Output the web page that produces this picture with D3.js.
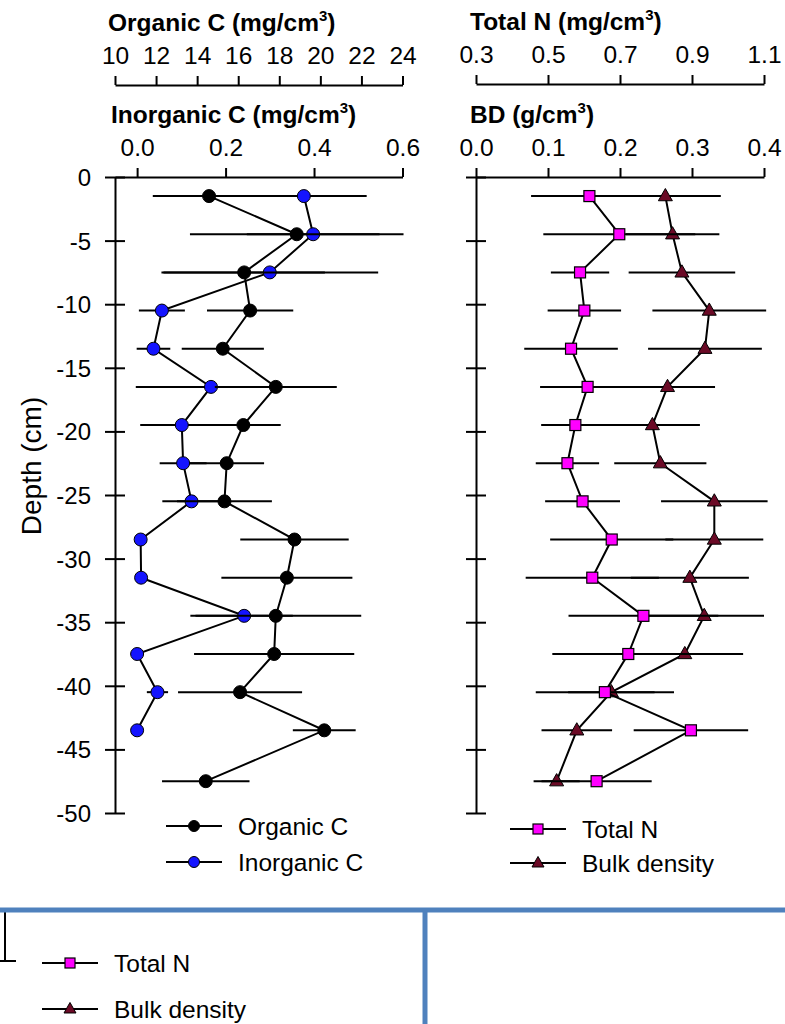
<!DOCTYPE html>
<html>
<head>
<meta charset="utf-8">
<script src="https://cdn.jsdelivr.net/npm/d3@7"></script>
<style>
  html, body { margin: 0; padding: 0; background: #ffffff; }
  svg { display: block; }
  text { font-family: "Liberation Sans", Arial, sans-serif; fill: #000; }
</style>
</head>
<body>
<svg id="chart" width="785" height="1024"></svg>
<script>
// Soil profile: depth of each sampled layer (cm, negative downward)
const depth = [-1.5, -4.5, -7.5, -10.5, -13.5, -16.5, -19.5, -22.5, -25.5, -28.5, -31.5, -34.5, -37.5, -40.5, -43.5, -47.5];

// Organic C (mg/cm3), mean and error
const organicC   = [14.58, 18.85, 16.29, 16.58, 15.25, 17.83, 16.25, 15.44, 15.33, 18.74, 18.37, 17.83, 17.75, 16.09, 20.19, 14.42];
const organicErr = [2.74, 5.2, 3.93, 2.1, 2.0, 2.97, 1.82, 1.82, 2.31, 2.64, 3.19, 4.16, 3.9, 3.02, 1.53, 2.13];

// Inorganic C (mg/cm3), measured down to -43.5 cm
const inorganicC   = [0.377, 0.398, 0.30, 0.056, 0.037, 0.167, 0.101, 0.104, 0.123, 0.008, 0.009, 0.242, 0.0, 0.046, 0.0];
const inorganicErr = [0.142, 0.15, 0.245, 0.052, 0.038, 0.17, 0.094, 0.053, 0.066, 0.005, 0.005, 0.11, 0.01, 0.024, 0.005];

// Total N (mg/cm3)
const totalN    = [0.615, 0.698, 0.589, 0.601, 0.564, 0.610, 0.576, 0.554, 0.596, 0.677, 0.623, 0.765, 0.723, 0.658, 0.897, 0.635];
const totalNErr = [0.162, 0.211, 0.081, 0.102, 0.13, 0.132, 0.095, 0.088, 0.104, 0.171, 0.185, 0.208, 0.211, 0.192, 0.159, 0.153];

// Bulk density (g/cm3)
const bulkDensity = [0.263, 0.273, 0.286, 0.324, 0.318, 0.266, 0.245, 0.256, 0.331, 0.331, 0.297, 0.317, 0.290, 0.188, 0.140, 0.112];
const bdErr       = [0.077, 0.065, 0.074, 0.079, 0.079, 0.066, 0.066, 0.064, 0.074, 0.068, 0.082, 0.083, 0.081, 0.06, 0.049, 0.032];

// Tick values
const depthTicks     = [0, -5, -10, -15, -20, -25, -30, -35, -40, -45, -50];
const organicTicks   = [10, 12, 14, 16, 18, 20, 22, 24];
const inorganicTicks = [0.0, 0.2, 0.4, 0.6];
const totalNTicks    = [0.3, 0.5, 0.7, 0.9, 1.1];
const bdTicks        = [0.0, 0.1, 0.2, 0.3, 0.4];

const svg = d3.select("#chart");

const colors = {
  organic: "#000000",
  inorganic: "#1414ff",
  totalN: "#ff00ff",
  bd: "#6b0a26",
  frame: "#4f81bd"
};

// Scales
const y = d3.scaleLinear().domain([0, -50]).range([177, 813]);
const xOrg = d3.scaleLinear().domain([10, 24]).range([115, 402.5]);
const xInorg = d3.scaleLinear().domain([-0.05, 0.6]).range([115, 402.5]);
const xN = d3.scaleLinear().domain([0.3, 1.1]).range([476, 764]);
const xBD = d3.scaleLinear().domain([0, 0.4]).range([476, 764]);

const TICK_FONT = 24.5;
const LABEL_FONT = 24.5;

function styleAxis(g, size) {
  g.select(".domain").attr("stroke", "#000").attr("stroke-width", 2);
  g.selectAll(".tick line").attr("stroke", "#000").attr("stroke-width", 2);
  g.selectAll(".tick text")
    .attr("font-size", size)
    .attr("font-family", "Liberation Sans, Arial, sans-serif")
    .attr("fill", "#000");
}

// Plain hyphen-minus for negative tick labels
const plain = d => String(d);

// Top axis with a bold title and superscript unit
function topAxis(scale, ticks, fmt, yPos, title, unit, titleX) {
  const g = svg.append("g").attr("transform", `translate(0,${yPos})`)
    .call(d3.axisTop(scale).tickValues(ticks).tickFormat(fmt).tickSizeInner(9).tickSizeOuter(0).tickPadding(12));
  styleAxis(g, TICK_FONT);
  const t = svg.append("text")
    .attr("x", titleX).attr("y", yPos - 54)
    .attr("font-size", 24.5).attr("font-weight", "bold");
  t.append("tspan").text(title + " (" + unit);
  t.append("tspan").text("3").attr("font-size", 15).attr("dy", -10);
  t.append("tspan").text(")").attr("dy", 10);
}

topAxis(xOrg, organicTicks, d3.format("d"), 85, "Organic C", "mg/cm", 108);
topAxis(xInorg, inorganicTicks, d3.format(".1f"), 177, "Inorganic C", "mg/cm", 111);
topAxis(xN, totalNTicks, d3.format(".1f"), 84, "Total N", "mg/cm", 470);
topAxis(xBD, bdTicks, d3.format(".1f"), 177, "BD", "g/cm", 470);

// Depth axes with ticks crossing the axis line
function depthAxis(xPos, withLabels) {
  const g = svg.append("g").attr("transform", `translate(${xPos},0)`)
    .call(d3.axisLeft(y).tickValues(depthTicks).tickSizeOuter(0).tickSizeInner(9).tickPadding(15)
      .tickFormat(withLabels ? plain : () => ""));
  styleAxis(g, 24);
  g.selectAll(".tick line").attr("x1", 10).attr("x2", -10);
  g.selectAll(".tick text").attr("dy", "0.35em").attr("x", -24);
  return g;
}
depthAxis(115, true);
depthAxis(476, false);

svg.append("text")
  .attr("transform", "translate(31,466) rotate(-90)")
  .attr("text-anchor", "middle").attr("dy", "0.35em")
  .attr("font-size", 28)
  .text("Depth (cm)");

// Marker shapes
function drawMarker(g, shape, cx, cy, fill, s) {
  if (shape === "circle") {
    g.append("circle").attr("cx", cx).attr("cy", cy).attr("r", s)
      .attr("fill", fill).attr("stroke", "#000").attr("stroke-width", 1);
  } else if (shape === "square") {
    g.append("rect").attr("x", cx - s).attr("y", cy - s).attr("width", 2 * s).attr("height", 2 * s)
      .attr("fill", fill).attr("stroke", "#000").attr("stroke-width", 1.2);
  } else {
    const h = s * 1.75;
    g.append("path")
      .attr("d", `M${cx},${cy - h * 0.62}L${cx + s},${cy + h * 0.38}L${cx - s},${cy + h * 0.38}Z`)
      .attr("fill", fill).attr("stroke", "#000").attr("stroke-width", 1);
  }
}

// One depth profile: horizontal error bars, connecting line, markers
function profile(values, errs, xs, shape, fill, size) {
  const rows = values.map((v, i) => ({ v, e: errs[i], d: depth[i] }));
  const g = svg.append("g");
  g.selectAll("line.err").data(rows).join("line")
    .attr("x1", r => xs(r.v - r.e)).attr("x2", r => xs(r.v + r.e))
    .attr("y1", r => y(r.d)).attr("y2", r => y(r.d))
    .attr("stroke", "#000").attr("stroke-width", 2);
  g.append("path").datum(rows)
    .attr("d", d3.line().x(r => xs(r.v)).y(r => y(r.d)))
    .attr("fill", "none").attr("stroke", "#000").attr("stroke-width", 2);
  rows.forEach(r => drawMarker(g, shape, xs(r.v), y(r.d), fill, size));
}

profile(inorganicC, inorganicErr, xInorg, "circle", colors.inorganic, 6.5);
profile(organicC, organicErr, xOrg, "circle", colors.organic, 6.5);
profile(bulkDensity, bdErr, xBD, "triangle", colors.bd, 7);
profile(totalN, totalNErr, xN, "square", colors.totalN, 5.5);

// Legends
function legend(items, x0, y0, gap) {
  items.forEach((it, i) => {
    const yy = y0 + i * gap;
    const g = svg.append("g");
    g.append("line").attr("x1", x0).attr("x2", x0 + 56).attr("y1", yy).attr("y2", yy)
      .attr("stroke", "#000").attr("stroke-width", 2);
    drawMarker(g, it.shape, x0 + 28, yy, it.fill, it.size);
    g.append("text").attr("x", x0 + 72).attr("y", yy + 8.5).attr("font-size", LABEL_FONT).text(it.label);
  });
}

legend([
  { label: "Organic C", shape: "circle", fill: colors.organic, size: 5.5 },
  { label: "Inorganic C", shape: "circle", fill: colors.inorganic, size: 5.5 }
], 166, 826, 36);

legend([
  { label: "Total N", shape: "square", fill: colors.totalN, size: 5 },
  { label: "Bulk density", shape: "triangle", fill: colors.bd, size: 6 }
], 510, 829, 34);

// Lower frame with a partial repeated panel
const lower = svg.append("g");
lower.append("line").attr("x1", 5).attr("x2", 5).attr("y1", 912).attr("y2", 961)
  .attr("stroke", "#000").attr("stroke-width", 2);
lower.append("line").attr("x1", 0).attr("x2", 16).attr("y1", 961).attr("y2", 961)
  .attr("stroke", "#000").attr("stroke-width", 2);
legend([
  { label: "Total N", shape: "square", fill: colors.totalN, size: 5 },
  { label: "Bulk density", shape: "triangle", fill: colors.bd, size: 6 }
], 42, 963, 46);

lower.append("line").attr("x1", 0).attr("x2", 785).attr("y1", 910).attr("y2", 910)
  .attr("stroke", colors.frame).attr("stroke-width", 5);
lower.append("line").attr("x1", 425).attr("x2", 425).attr("y1", 910).attr("y2", 1024)
  .attr("stroke", colors.frame).attr("stroke-width", 5);
</script>
</body>
</html>
